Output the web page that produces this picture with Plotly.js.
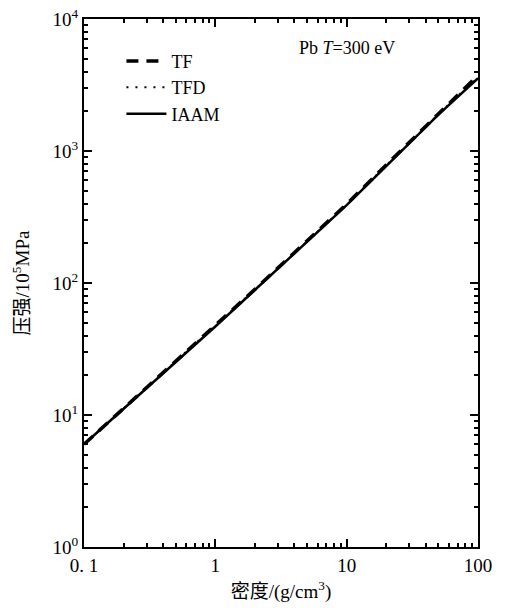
<!DOCTYPE html>
<html>
<head>
<meta charset="utf-8">
<script src="https://cdn.plot.ly/plotly-3.0.1.min.js"></script>
<style>html,body{margin:0;padding:0;background:#fff;}#chart{width:505px;height:608px;}</style>
</head>
<body>
<div id="chart"></div>
<script>
// density (g/cm^3)
var density = [0.1, 0.2, 0.5, 1, 2, 5, 10, 20, 50, 100];
// pressure (10^5 MPa)
var pressureTF   = [6.0, 11.2, 25.3, 47.2, 89.5, 209, 396, 785, 1930, 3750];
var pressureTFD  = [6.0, 11.2, 25.2, 47.0, 89.0, 207, 392, 775, 1905, 3650];
var pressureIAAM = [6.0, 11.2, 25.2, 46.8, 88.5, 206, 389, 767, 1884, 3560];
var xTickVals = [0.1, 1, 10, 100];
var xTickText = ['0. 1', '1', '10', '100'];
var yTickVals = [1, 10, 100, 1000, 10000];
var yTickText = ['10<sup>0</sup>', '10<sup>1</sup>', '10<sup>2</sup>', '10<sup>3</sup>', '10<sup>4</sup>'];

function minorTicks(first, last) {
  var out = [];
  for (var d = first; d < last; d *= 10) {
    for (var m = 2; m <= 9; m++) out.push(d * m);
  }
  return out;
}

var serif = 'Liberation Serif, serif';
var cjk = 'Liberation Serif, Noto Sans CJK SC, serif';

var traces = [
  {x: density, y: pressureTF, name: 'TF', mode: 'lines', line: {color: '#000', width: 3.5, dash: '12px,8px'}},
  {x: density, y: pressureTFD, name: 'TFD', mode: 'lines', line: {color: '#000', width: 2, dash: '2px,7px'}},
  {x: density, y: pressureIAAM, name: 'IAAM', mode: 'lines', line: {color: '#000', width: 2.5}}
];

function axis(minorVals) {
  return {
    type: 'log',
    showgrid: false,
    zeroline: false,
    showline: true,
    linecolor: '#000',
    linewidth: 2,
    mirror: 'allticks',
    ticks: 'inside',
    ticklen: 8,
    tickwidth: 2,
    tickcolor: '#000',
    tickfont: {family: serif, size: 19, color: '#000'},
    minor: {tickmode: 'array', tickvals: minorVals, ticks: 'inside', ticklen: 4, tickwidth: 2, tickcolor: '#000', showgrid: false}
  };
}

var layout = {
  width: 505, height: 608,
  margin: {l: 84, r: 27, t: 19, b: 61},
  paper_bgcolor: '#fff', plot_bgcolor: '#fff',
  font: {family: serif, color: '#000'},
  showlegend: true,
  legend: {x: 0.095, y: 0.955, xanchor: 'left', yanchor: 'top', bgcolor: 'rgba(0,0,0,0)',
           font: {family: serif, size: 18, color: '#000'}, tracegroupgap: 0, itemwidth: 40},
  xaxis: Object.assign(axis(minorTicks(0.1, 100)), {
    range: [-1, 2], tickvals: xTickVals, ticktext: xTickText,
    title: {text: '密度/(g/cm<sup>3</sup>)', font: {family: cjk, size: 19, color: '#000'}, standoff: 10}
  }),
  yaxis: Object.assign(axis(minorTicks(1, 10000)), {
    range: [0, 4], tickvals: yTickVals, ticktext: yTickText,
    title: {text: '压强/10<sup>5</sup>MPa', font: {family: cjk, size: 19, color: '#000'}, standoff: 18}
  }),
  annotations: [{
    xref: 'paper', yref: 'paper', x: 0.54, y: 0.945, xanchor: 'left', yanchor: 'middle',
    text: 'Pb <i>T</i>=300 eV', showarrow: false, font: {family: serif, size: 18, color: '#000'}
  }]
};

Plotly.newPlot('chart', traces, layout, {displayModeBar: false, staticPlot: true});
</script>
</body>
</html>
